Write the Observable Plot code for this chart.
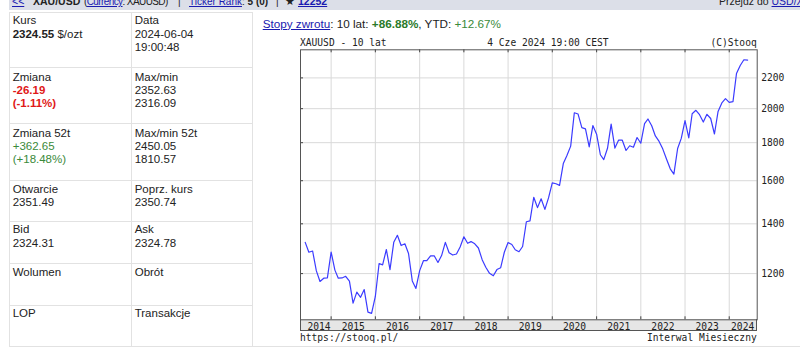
<!DOCTYPE html>
<html><head><meta charset="utf-8">
<script src="https://cdn.jsdelivr.net/npm/d3@7"></script>
<script src="https://cdn.jsdelivr.net/npm/@observablehq/plot@0.6"></script>
<style>
body{margin:0;width:800px;height:353px;overflow:hidden;background:#fff;font-family:Arial,"Liberation Sans",sans-serif;font-size:11.5px;color:#222;position:relative}
.a{position:absolute;white-space:nowrap;line-height:13.3px}
.topbar{position:absolute;left:9px;top:0;width:791px;height:10px;background:#dcdfe8;overflow:hidden;font-size:10.5px}
.topbar .a{top:-5px;line-height:13px}
.lnk{color:#1a1ab0;text-decoration:underline}
.hl{position:absolute;height:1px;background:#e2e2e2}
.vl{position:absolute;width:1px;background:#e2e2e2}
.mono{position:absolute;white-space:nowrap;font-family:"DejaVu Sans Mono",monospace;font-size:9.6px;line-height:11px;color:#222}
.red{color:#e01818}
.grn{color:#3a8a3a}
#band{position:absolute;left:300px;top:319.3px;width:456.7px;height:11.4px;background:#e6e6e6;box-sizing:border-box;border:1px solid #555;border-top:none}
#chart{position:absolute;left:260px;top:30px}
</style></head><body>
<div class="topbar">
  <div class="a" style="left:3px"><span class="lnk">&lt;&lt;</span></div>
  <div class="a" style="left:24px"><b>XAU/USD</b></div>
  <div class="a" style="left:75px;font-size:10px;letter-spacing:-0.6px">(<span class="lnk">Currency</span>: XAUUSD)</div>
  <div class="a" style="left:169px;font-size:10px">|</div>
  <div class="a" style="left:180px;font-size:10px"><span class="lnk">Ticker Rank</span>: <b>5 (0)</b></div>
  <div class="a" style="left:267px;font-size:10px">|</div>
  <div class="a" style="left:276px">★</div>
  <div class="a" style="left:289px"><b class="lnk">12252</b></div>
  <div class="a" style="left:710px">Przejdź do <span class="lnk">USD/XAU</span></div>
</div>

<div class="hl" style="left:9px;top:12px;width:244px"></div>
<div class="hl" style="left:9px;top:66.7px;width:244px"></div>
<div class="hl" style="left:9px;top:122.7px;width:244px"></div>
<div class="hl" style="left:9px;top:180px;width:244px"></div>
<div class="hl" style="left:9px;top:221px;width:244px"></div>
<div class="hl" style="left:9px;top:262.7px;width:244px"></div>
<div class="hl" style="left:9px;top:305px;width:244px"></div>
<div class="hl" style="left:9px;top:346px;width:791px"></div>
<div class="vl" style="left:9px;top:12px;height:335px"></div>
<div class="vl" style="left:131px;top:12px;height:335px"></div>
<div class="vl" style="left:252px;top:12px;height:335px"></div>

<div class="a" style="left:12.7px;top:14.3px">Kurs<br><b>2324.55</b> $/ozt</div>
<div class="a" style="left:134.7px;top:14.3px">Data<br>2024-06-04<br>19:00:48</div>
<div class="a" style="left:12.7px;top:70.7px">Zmiana<br><b class="red">-26.19</b><br><b class="red">(-1.11%)</b></div>
<div class="a" style="left:134.7px;top:70.7px">Max/min<br>2352.63<br>2316.09</div>
<div class="a" style="left:12.7px;top:126.7px">Zmiana 52t<br><span class="grn">+362.65</span><br><span class="grn">(+18.48%)</span></div>
<div class="a" style="left:134.7px;top:126.7px">Max/min 52t<br>2450.05<br>1810.57</div>
<div class="a" style="left:12.7px;top:182.7px">Otwarcie<br>2351.49</div>
<div class="a" style="left:134.7px;top:182.7px">Poprz. kurs<br>2350.74</div>
<div class="a" style="left:12.7px;top:223.4px">Bid<br>2324.31</div>
<div class="a" style="left:134.7px;top:223.4px">Ask<br>2324.78</div>
<div class="a" style="left:12.7px;top:266px">Wolumen</div>
<div class="a" style="left:134.7px;top:266px">Obrót</div>
<div class="a" style="left:12.7px;top:307.4px">LOP</div>
<div class="a" style="left:134.7px;top:307.4px">Transakcje</div>

<div class="a" style="left:262.7px;top:16.5px;font-size:11.7px"><span class="lnk">Stopy zwrotu</span>: 10 lat: <b style="color:#2a7a2a">+86.88%</b>, YTD: <span style="color:#3a8a3a">+12.67%</span></div>

<div class="mono" style="left:300px;top:37.2px">XAUUSD - 10 lat</div>
<div class="mono" style="left:487.3px;top:37.2px">4 Cze 2024 19:00 CEST</div>
<div class="mono" style="right:43.3px;top:37.2px">(C)Stooq</div>
<div class="mono" style="left:300px;top:332.2px">https://stooq.pl/</div>
<div class="mono" style="right:43.3px;top:332.2px">Interwal Miesieczny</div>

<div id="band"></div>
<div id="chart"></div>

<script>
// Monthly closes of XAU/USD, first value = June 2014
const startMonth = "2014-06-01";
const closes2014 = [1322, 1282, 1287, 1210, 1171, 1183, 1184];
const closes2015 = [1283, 1213, 1183, 1184, 1190, 1172, 1095, 1133, 1115, 1142, 1065, 1061];
const closes2016 = [1118, 1238, 1233, 1293, 1215, 1322, 1351, 1309, 1316, 1277, 1173, 1146];
const closes2017 = [1211, 1249, 1249, 1268, 1268, 1242, 1269, 1322, 1280, 1271, 1275, 1303];
const closes2018 = [1345, 1318, 1325, 1316, 1299, 1253, 1224, 1201, 1192, 1215, 1222, 1282];
const closes2019 = [1321, 1313, 1292, 1284, 1305, 1409, 1413, 1520, 1472, 1513, 1464, 1517];
const closes2020 = [1589, 1585, 1577, 1687, 1730, 1781, 1975, 1967, 1886, 1879, 1777, 1898];
const closes2021 = [1848, 1734, 1708, 1769, 1907, 1770, 1814, 1814, 1757, 1783, 1775, 1829];
const closes2022 = [1797, 1909, 1937, 1897, 1838, 1807, 1766, 1711, 1660, 1633, 1768, 1824];
const closes2023 = [1928, 1827, 1969, 1990, 1963, 1919, 1965, 1940, 1849, 1983, 2036, 2063];
const closes2024 = [2039, 2044, 2230, 2286, 2327, 2325];

const yTicks = [1200, 1400, 1600, 1800, 2000, 2200];
const years = [2015, 2016, 2017, 2018, 2019, 2020, 2021, 2022, 2023, 2024];
const xDomain = ["2014-04-23", "2024-08-19"];

const closes = [].concat(closes2014, closes2015, closes2016, closes2017, closes2018,
  closes2019, closes2020, closes2021, closes2022, closes2023, closes2024);
const start = new Date(startMonth);
const series = closes.map((c, i) => ({date: d3.utcMonth.offset(start, i), close: c}));
const yearStarts = years.map(y => new Date(Date.UTC(y, 0, 1)));
const midYears = years.slice(0, -1).map(y => new Date((Date.UTC(y, 0, 1) + Date.UTC(y + 1, 0, 1)) / 2));
const dom = xDomain.map(d => new Date(d));

const W = 540, H = 320, mL = 40, mR = 43.3, mT = 19.3, mB = 30.7;
const innerW = W - mL - mR, innerH = H - mT - mB;

const plot = Plot.plot({
  width: W, height: H,
  marginLeft: mL, marginRight: mR, marginTop: mT, marginBottom: mB,
  style: {background: "transparent", fontFamily: "'DejaVu Sans Mono', monospace", fontSize: "9.6px", color: "#222", overflow: "visible"},
  x: {type: "utc", domain: dom, label: null},
  y: {type: "log", domain: [1040, 2400], label: null},
  marks: [
    Plot.gridX(yearStarts, {stroke: "#d9d9d9", strokeOpacity: 1}),
    Plot.gridY(yTicks, {stroke: "#d9d9d9", strokeOpacity: 1}),
    Plot.tickX(yearStarts, {x: d => d, stroke: "#444", insetBottom: innerH - 3}),
    Plot.tickX(yearStarts, {x: d => d, stroke: "#444", insetTop: innerH - 3}),
    Plot.tickY(yTicks, {y: d => d, stroke: "#444", insetRight: innerW - 3}),
    Plot.line(series, {x: "date", y: "close", stroke: "#3b3bff", strokeWidth: 1.2}),
    Plot.frame({stroke: "#555"}),
    Plot.axisY(yTicks, {anchor: "right", tickSize: 0, tickPadding: 4, label: null, tickFormat: d3.format("d")}),
    Plot.axisX(midYears, {anchor: "bottom", tickSize: 0, tickPadding: 3, label: null, tickFormat: d3.utcFormat("%Y")}),
    Plot.axisX([dom[0]], {anchor: "bottom", tickSize: 0, tickPadding: 3, label: null, textAnchor: "start", dx: 7, tickFormat: d3.utcFormat("%Y")}),
    Plot.axisX([dom[1]], {anchor: "bottom", tickSize: 0, tickPadding: 3, label: null, textAnchor: "end", dx: -3, tickFormat: d3.utcFormat("%Y")})
  ]
});
document.getElementById("chart").appendChild(plot);
</script>
</body></html>
